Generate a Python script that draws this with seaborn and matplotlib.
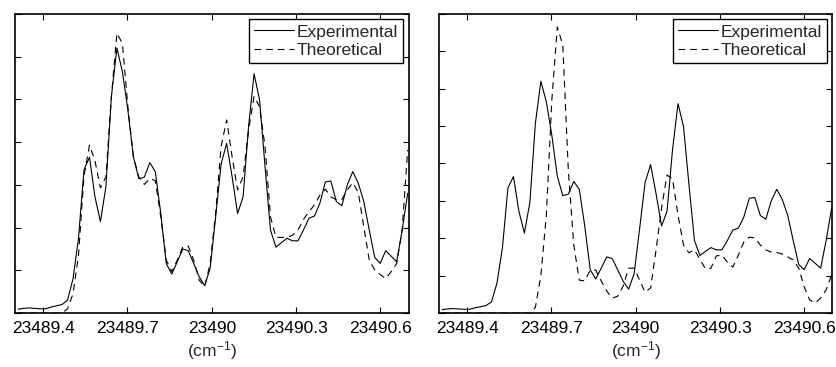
import matplotlib

matplotlib.use("Agg")
import matplotlib.pyplot as plt
import numpy as np
import pandas as pd
import seaborn as sns

# scan grid (cm^-1)
wavenumber = [
    23489.3110, 23489.3305, 23489.3500, 23489.3696, 23489.3891, 23489.4086,
    23489.4281, 23489.4476, 23489.4672, 23489.4867, 23489.5062, 23489.5257,
    23489.5452, 23489.5648, 23489.5843, 23489.6038, 23489.6233, 23489.6428,
    23489.6624, 23489.6819, 23489.7014, 23489.7209, 23489.7404, 23489.7600,
    23489.7795, 23489.7990, 23489.8185, 23489.8380, 23489.8576, 23489.8771,
    23489.8966, 23489.9161, 23489.9356, 23489.9552, 23489.9747, 23489.9942,
    23490.0137, 23490.0332, 23490.0528, 23490.0723, 23490.0918, 23490.1113,
    23490.1308, 23490.1504, 23490.1699, 23490.1894, 23490.2089, 23490.2284,
    23490.2480, 23490.2675, 23490.2870, 23490.3065, 23490.3260, 23490.3456,
    23490.3651, 23490.3846, 23490.4041, 23490.4236, 23490.4432, 23490.4627,
    23490.4822, 23490.5017, 23490.5212, 23490.5408, 23490.5603, 23490.5798,
    23490.5993, 23490.6188, 23490.6384, 23490.6579, 23490.6774, 23490.6969,
]

# measured spectrum (same in both panels)
experimental = [
    0.09, 0.11, 0.12, 0.11, 0.10, 0.10, 0.14, 0.17, 0.20, 0.30,
    0.80, 1.75, 3.35, 3.65, 2.72, 2.14, 2.96, 5.07, 6.20, 5.65,
    4.75, 3.66, 3.14, 3.18, 3.52, 3.31, 2.33, 1.16, 0.91, 1.20,
    1.50, 1.46, 1.16, 0.85, 0.64, 1.05, 2.25, 3.49, 3.97, 3.19,
    2.33, 2.72, 4.36, 5.60, 4.99, 3.43, 1.94, 1.54, 1.65, 1.75,
    1.69, 1.69, 1.94, 2.22, 2.27, 2.57, 3.07, 3.09, 2.61, 2.51,
    3.00, 3.31, 3.04, 2.61, 1.94, 1.30, 1.16, 1.46, 1.33, 1.20,
    1.94, 2.80,
]

# fitted model (left panel)
theoretical_left = [
    0.00, 0.00, 0.00, 0.00, 0.00, 0.00, 0.00, 0.00, 0.00, 0.10,
    0.45, 1.35, 3.20, 3.93, 3.56, 2.93, 3.19, 5.07, 6.55, 6.31,
    4.83, 3.66, 3.19, 3.01, 3.15, 3.10, 2.25, 1.24, 0.97, 1.24,
    1.55, 1.57, 1.24, 0.77, 0.62, 1.16, 2.33, 3.90, 4.52, 3.66,
    2.88, 3.19, 4.28, 5.07, 4.83, 3.90, 2.25, 1.77, 1.77, 1.77,
    1.82, 1.94, 2.19, 2.37, 2.53, 2.76, 2.90, 2.72, 2.65, 2.66,
    2.88, 3.05, 2.82, 2.02, 1.24, 1.01, 0.90, 0.81, 0.97, 1.16,
    1.94, 3.82,
]

# initial model (right panel)
theoretical_right = [
    0.00, 0.00, 0.00, 0.00, 0.00, 0.00, 0.00, 0.00, 0.00, 0.00,
    0.00, 0.00, 0.00, 0.00, 0.00, 0.00, 0.00, 0.15, 1.00, 2.62,
    5.70, 7.65, 7.17, 3.83, 1.82, 0.88, 0.86, 1.15, 1.15, 0.86,
    0.59, 0.40, 0.45, 0.72, 1.20, 1.20, 0.88, 0.56, 0.67, 1.69,
    2.81, 3.69, 3.59, 2.62, 1.82, 1.61, 1.69, 1.44, 1.18, 1.20,
    1.53, 1.55, 1.36, 1.23, 1.55, 1.90, 2.03, 2.01, 1.82, 1.69,
    1.63, 1.62, 1.58, 1.50, 1.42, 1.20, 0.70, 0.35, 0.27, 0.40,
    0.62, 1.02,
]

xtick_values = [23489.4, 23489.7, 23490.0, 23490.3, 23490.6]
xtick_labels = ["23489.4", "23489.7", "23490", "23490.3", "23490.6"]

sns.set_theme(style="ticks")
plt.rcParams["font.family"] = ["Liberation Sans", "DejaVu Sans"]
plt.rcParams["mathtext.default"] = "regular"

df = pd.DataFrame(
    {
        "wavenumber": wavenumber,
        "experimental": experimental,
        "theo_left": theoretical_left,
        "theo_right": theoretical_right,
    }
)

fig, axes = plt.subplots(1, 2, figsize=(8.37, 3.67), dpi=100)
fig.subplots_adjust(left=0.018, right=0.9946, bottom=0.147, top=0.962, wspace=0.0775)

FS = 12.5
panels = [(axes[0], "theo_left", 7), (axes[1], "theo_right", 8)]
for ax, theo_col, ytop in panels:
    sns.lineplot(
        data=df, x="wavenumber", y="experimental", ax=ax,
        color="black", linewidth=0.8, label="Experimental",
    )
    sns.lineplot(
        data=df, x="wavenumber", y=theo_col, ax=ax,
        color="black", linewidth=0.8, linestyle=(0, (6, 4.5)), label="Theoretical",
    )
    ax.set_xlim(23489.3, 23490.7)
    ax.set_ylim(0, ytop)
    ax.set_yticks(np.arange(0, ytop + 1))
    ax.set_yticklabels([])
    ax.set_xticks(xtick_values)
    ax.set_xticklabels(xtick_labels)
    ax.tick_params(
        direction="in", top=True, right=True, length=4, width=0.8,
        pad=6, labelsize=FS, colors="black",
    )
    ax.set_xlabel("(cm$^{-1}$)", fontsize=FS, labelpad=2)
    ax.set_ylabel("")
    for s in ax.spines.values():
        s.set_visible(True)
        s.set_linewidth(1.2)
        s.set_color("black")

    leg = ax.legend(
        loc="upper right", fontsize=FS, frameon=True, fancybox=False,
        edgecolor="black", framealpha=1, borderaxespad=0.3, borderpad=0.3,
        handlelength=2.3, handletextpad=0.15, labelspacing=0.2,
    )
    leg.get_frame().set_linewidth(1.0)

fig.savefig("out.png", dpi=100)
plt.close(fig)
